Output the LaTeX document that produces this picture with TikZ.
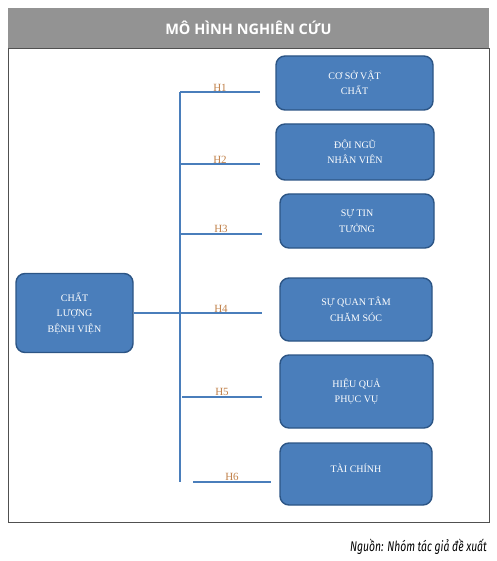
\documentclass[tikz,border=0pt]{standalone}
\usepackage{fontspec}
\setmainfont{Liberation Serif}
\newfontfamily\headfont{Open Sans}
\newfontfamily\notefont{Fira Sans}
\definecolor{boxblue}{HTML}{4A7EBB}
\definecolor{boxedge}{HTML}{2C5585}
\definecolor{hcol}{HTML}{C08048}
\definecolor{headgray}{HTML}{939393}
\definecolor{framegray}{HTML}{505050}
\tikzset{
  factor/.style={draw=boxedge, line width=1.4pt, fill=boxblue, rounded corners=9pt,
    text=white, align=center, font=\fontsize{10}{15.5}\selectfont},
  link/.style={draw=boxblue, line width=1.3pt},
  hyp/.style={text=hcol, font=\fontsize{11}{11}\selectfont, above, inner sep=0.3pt}
}
\begin{document}
\begin{tikzpicture}[x=1pt, y=-1pt]
  \useasboundingbox (0,0) rectangle (496,561);
  \fill[headgray] (8,8) rectangle (489,48);
  \node[text=white, font=\headfont\bfseries\fontsize{14.5}{16}\selectfont] (title) at (248.5,28) {MÔ HÌNH NGHIÊN CỨU};
  \draw[framegray, line width=0.9pt] (8,48) rectangle (489,522);
  % factor boxes
  \node[factor, minimum width=117pt, minimum height=79pt] (clbv) at (74.5,313) {CHẤT\\LƯỢNG\\BỆNH VIỆN};
  \node[factor, minimum width=157pt, minimum height=54pt] (csvc) at (354.5,83) {CƠ SỞ VẬT\\CHẤT};
  \node[factor, minimum width=158pt, minimum height=56pt] (dnnv) at (355,152) {ĐỘI NGŨ\\NHÂN VIÊN};
  \node[factor, minimum width=154pt, minimum height=54pt] (stt) at (357,221) {SỰ TIN\\TƯỞNG};
  \node[factor, minimum width=152pt, minimum height=63pt] (sqtcs) at (356,309.5) {SỰ QUAN TÂM\\CHĂM SÓC};
  \node[factor, minimum width=153pt, minimum height=73pt] (hqpv) at (356.5,391.5) {HIỆU QUẢ\\PHỤC VỤ};
  \node[factor, minimum width=152pt, minimum height=62pt, text depth=12pt] (tc) at (356,474) {TÀI CHÍNH};
  % spine and branches
  \coordinate (top) at (180,92);
  \coordinate (bot) at (180,482);
  \coordinate (s4) at (180,313);
  \draw[link] (top) -- (bot);
  \draw[link] (clbv.east) -- (s4);
  \draw[link] (top) -- node[hyp] {H1} (260,92);
  \draw[link] (180,164) -- node[hyp] {H2} (260,164);
  \draw[link] (180,234) -- node[hyp] {H3} (262,234);
  \draw[link] (s4) -- node[hyp] {H4} (262,313);
  \draw[link, line width=1.8pt] (182,397) -- node[hyp] {H5} (262,397);
  \draw[link] (193,482) -- node[hyp] {H6} (271,482);
  \node[anchor=base east, inner sep=0pt] (src) at (487,551)
    {\scalebox{0.74}[1]{\notefont\itshape\fontsize{14}{15}\selectfont Nguồn: Nhóm tác giả đề xuất}};
\end{tikzpicture}
\end{document}
